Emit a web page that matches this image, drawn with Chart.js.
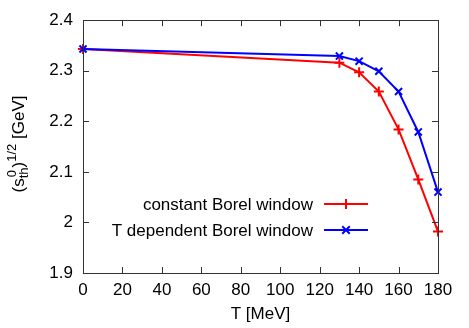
<!DOCTYPE html>
<html>
<head>
<meta charset="utf-8">
<script src="https://cdn.jsdelivr.net/npm/chart.js@4/dist/chart.umd.min.js"></script>
<style>
  html, body { margin: 0; padding: 0; background: #fff; }
  #wrap { width: 469px; height: 328px; }
</style>
</head>
<body>
<div id="wrap"><canvas id="chart" width="469" height="328"></canvas></div>
<script>
// data
var temps = [0, 130, 140, 150, 160, 170, 180];
var constWindow = [2.343, 2.316, 2.297, 2.259, 2.184, 2.085, 1.982];
var tDepWindow = [2.343, 2.329, 2.319, 2.299, 2.259, 2.179, 2.060];
var xTicks = [0, 20, 40, 60, 80, 100, 120, 140, 160, 180];
var yTicks = [1.9, 2.0, 2.1, 2.2, 2.3, 2.4];
var yTickLabels = ['1.9', '2', '2.1', '2.2', '2.3', '2.4'];
var seriesNames = ['constant Borel window', 'T dependent Borel window'];

var FONT = 'Liberation Sans, Arial, Helvetica, sans-serif';
var FSIZE = 17;

function toPoints(xs, ys) {
    return xs.map(function(x, i) { return {x: x, y: ys[i]}; });
}

// frame + inward ticks on all four sides (gnuplot look)
var framePlugin = {
    id: 'frame',
    afterDraw: function(chart) {
        var ctx = chart.ctx, a = chart.chartArea;
        var xs = chart.scales.x, ys = chart.scales.y;
        ctx.save();
        ctx.strokeStyle = '#333';
        ctx.lineWidth = 1;
        ctx.beginPath();
        xTicks.forEach(function(v) {
            var px = Math.round(xs.getPixelForValue(v)) + 0.5;
            ctx.moveTo(px, a.bottom); ctx.lineTo(px, a.bottom - 6);
            ctx.moveTo(px, a.top); ctx.lineTo(px, a.top + 6);
        });
        yTicks.forEach(function(v) {
            var py = Math.round(ys.getPixelForValue(v)) + 0.5;
            ctx.moveTo(a.left, py); ctx.lineTo(a.left + 6, py);
            ctx.moveTo(a.right, py); ctx.lineTo(a.right - 6, py);
        });
        ctx.stroke();
        ctx.strokeRect(Math.round(a.left) + 0.5, Math.round(a.top) + 0.5,
            Math.round(a.right - a.left), Math.round(a.bottom - a.top));
        ctx.restore();
    }
};

function drawMarker(ctx, style, x, y, r) {
    ctx.beginPath();
    if (style === 'cross') {
        ctx.moveTo(x - r, y); ctx.lineTo(x + r, y);
        ctx.moveTo(x, y - r); ctx.lineTo(x, y + r);
    } else {
        var d = r * 0.75;
        ctx.moveTo(x - d, y - d); ctx.lineTo(x + d, y + d);
        ctx.moveTo(x - d, y + d); ctx.lineTo(x + d, y - d);
    }
    ctx.stroke();
}

// legend inside plot, text right-justified with sample line on the right
var legendPlugin = {
    id: 'innerLegend',
    afterDraw: function(chart) {
        var ctx = chart.ctx;
        var rows = [204, 230];
        ctx.save();
        ctx.font = FSIZE + 'px ' + FONT;
        ctx.textAlign = 'right';
        ctx.textBaseline = 'middle';
        chart.data.datasets.forEach(function(ds, i) {
            var y = rows[i];
            ctx.fillStyle = '#000';
            ctx.fillText(ds.label, 313, y + 1);
            ctx.strokeStyle = ds.borderColor;
            ctx.lineWidth = 2;
            ctx.beginPath();
            ctx.moveTo(324, y); ctx.lineTo(368, y);
            ctx.stroke();
            drawMarker(ctx, ds.pointStyle, 346, y, 5);
        });
        ctx.restore();
    }
};

// y axis title with sub/superscripts
var yTitlePlugin = {
    id: 'yTitle',
    afterDraw: function(chart) {
        var ctx = chart.ctx;
        var parts = [
            {t: '(s', f: FSIZE, dy: 0},
            {t: 'th', f: 13, dy: 4, sub: true},
            {t: ')', f: FSIZE, dy: 0},
            {t: '1/2', f: 13, dy: -8},
            {t: ' [GeV]', f: FSIZE, dy: 0}
        ];
        ctx.save();
        var total = 0;
        parts.forEach(function(p) {
            ctx.font = p.f + 'px ' + FONT;
            p.w = ctx.measureText(p.t).width;
            total += p.w;
        });
        ctx.translate(24, 144);
        ctx.rotate(-Math.PI / 2);
        ctx.fillStyle = '#000';
        ctx.textBaseline = 'alphabetic';
        ctx.textAlign = 'left';
        var x = -total / 2;
        parts.forEach(function(p) {
            ctx.font = p.f + 'px ' + FONT;
            ctx.fillText(p.t, x, p.dy);
            if (p.sub) {
                // superscript 0 above the subscript
                ctx.fillText('0', x + 1, -8);
            }
            x += p.w;
        });
        ctx.restore();
    }
};

new Chart(document.getElementById('chart'), {
    type: 'line',
    data: {
        datasets: [{
            label: seriesNames[0],
            data: toPoints(temps, constWindow),
            borderColor: '#ff0000',
            backgroundColor: '#ff0000',
            borderWidth: 2,
            pointStyle: 'cross',
            pointRadius: 5,
            pointBorderWidth: 2,
            tension: 0,
            order: 2
        }, {
            label: seriesNames[1],
            data: toPoints(temps, tDepWindow),
            borderColor: '#0000ff',
            backgroundColor: '#0000ff',
            borderWidth: 2,
            pointStyle: 'crossRot',
            pointRadius: 5,
            pointBorderWidth: 2,
            tension: 0,
            order: 1
        }]
    },
    options: {
        responsive: false,
        animation: false,
        clip: false,
        layout: { padding: { top: 17, right: 31, left: 0, bottom: 0 } },
        plugins: {
            legend: { display: false },
            tooltip: { enabled: false }
        },
        scales: {
            x: {
                type: 'linear',
                min: 0,
                max: 180,
                afterBuildTicks: function(scale) {
                    scale.ticks = xTicks.map(function(v) { return {value: v}; });
                },
                afterFit: function(scale) { scale.height = 55; },
                ticks: {
                    color: '#000',
                    font: { family: FONT, size: FSIZE },
                    padding: 7,
                    maxRotation: 0
                },
                grid: { display: false, drawTicks: false },
                border: { display: false },
                title: {
                    display: true,
                    text: 'T [MeV]',
                    color: '#000',
                    font: { family: FONT, size: FSIZE },
                    padding: { top: 2, bottom: 3 }
                }
            },
            y: {
                type: 'linear',
                min: 1.9,
                max: 2.4,
                afterBuildTicks: function(scale) {
                    scale.ticks = yTicks.map(function(v) { return {value: v}; });
                },
                afterFit: function(scale) { scale.width = 83; },
                ticks: {
                    color: '#000',
                    font: { family: FONT, size: FSIZE },
                    padding: 10,
                    callback: function(v) {
                        var i = yTicks.findIndex(function(t) { return Math.abs(t - v) < 1e-6; });
                        return i >= 0 ? yTickLabels[i] : '';
                    }
                },
                grid: { display: false, drawTicks: false },
                border: { display: false }
            }
        }
    },
    plugins: [framePlugin, legendPlugin, yTitlePlugin]
});
</script>
</body>
</html>
